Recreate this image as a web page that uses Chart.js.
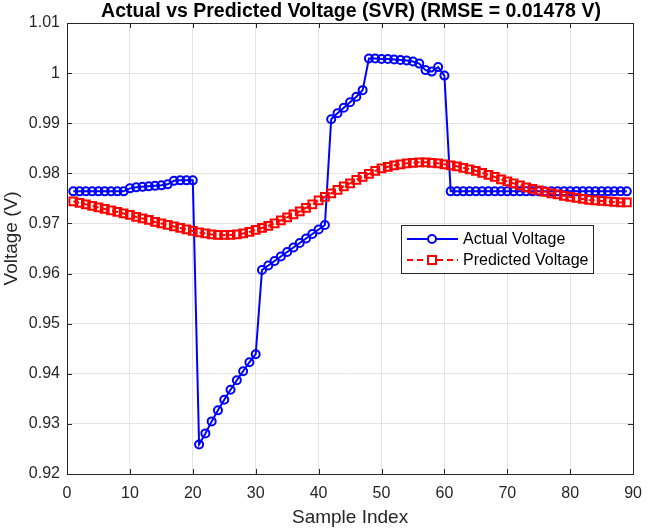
<!DOCTYPE html>
<html>
<head>
<meta charset="utf-8">
<script src="https://cdn.jsdelivr.net/npm/chart.js@4/dist/chart.umd.min.js"></script>
<style>
html,body{margin:0;padding:0;background:#fff;}
#wrap{width:652px;height:531px;position:relative;}
</style>
</head>
<body>
<div id="wrap"><canvas id="c" width="652" height="531"></canvas></div>
<script>
const titleText = "Actual vs Predicted Voltage (SVR) (RMSE = 0.01478 V)";
const xTitle = "Sample Index";
const yTitle = "Voltage (V)";
const seriesNames = ["Actual Voltage", "Predicted Voltage"];
const xTicks = [0,10,20,30,40,50,60,70,80,90];
const yTicks = [0.92,0.93,0.94,0.95,0.96,0.97,0.98,0.99,1.00,1.01];

const sampleIndex = [];
for (let i = 1; i <= 89; i++) sampleIndex.push(i);

const actualVoltage = [
  0.9764,0.9764,0.9764,0.9764,0.9764,0.9764,0.9764,0.9764,0.9764,0.9770,
  0.9772,0.9773,0.9774,0.9775,0.9776,0.9778,0.9785,0.9786,0.9786,0.9786,
  0.9259,0.9281,0.9305,0.9327,0.9348,0.9368,0.9387,0.9405,0.9423,0.9439,
  0.9607,0.9616,0.9625,0.9634,0.9643,0.9652,0.9661,0.9670,0.9679,0.9688,
  0.9697,0.9908,0.9920,0.9931,0.9942,0.9953,0.9966,1.0029,1.0029,1.0028,
  1.0028,1.0027,1.0026,1.0025,1.0023,1.0019,1.0006,1.0003,1.0012,0.9995,
  0.9764,0.9764,0.9764,0.9764,0.9764,0.9764,0.9764,0.9764,0.9764,0.9764,
  0.9764,0.9764,0.9764,0.9764,0.9764,0.9764,0.9764,0.9764,0.9764,0.9764,
  0.9764,0.9764,0.9764,0.9764,0.9764,0.9764,0.9764,0.9764,0.9764
];

const predictedVoltage = [
  0.9744,0.9741,0.9738,0.9735,0.9732,0.9729,0.9726,0.9723,0.9720,0.9717,
  0.9713,0.9710,0.9707,0.9703,0.9700,0.9697,0.9694,0.9691,0.9688,0.9685,
  0.9682,0.9680,0.9678,0.9677,0.9677,0.9677,0.9678,0.9680,0.9683,0.9687,
  0.9691,0.9695,0.9700,0.9706,0.9712,0.9718,0.9724,0.9731,0.9738,0.9746,
  0.9753,0.9760,0.9767,0.9774,0.9780,0.9787,0.9793,0.9799,0.9805,0.9810,
  0.9813,0.9816,0.9818,0.9820,0.9821,0.9822,0.9822,0.9821,0.9820,0.9818,
  0.9816,0.9814,0.9811,0.9808,0.9805,0.9801,0.9797,0.9793,0.9788,0.9784,
  0.9780,0.9776,0.9772,0.9769,0.9766,0.9763,0.9760,0.9758,0.9755,0.9753,
  0.9751,0.9749,0.9747,0.9746,0.9745,0.9744,0.9743,0.9742,0.9742
];

const toPts = (ys) => ys.map((y, i) => ({x: sampleIndex[i], y: y}));
const AX = '#262626';
const FONT = '"Liberation Sans", Arial, Helvetica, sans-serif';

const decor = {
  id: 'decor',
  afterDraw(chart) {
    const ctx = chart.ctx;
    const a = chart.chartArea;
    const xs = chart.scales.x, ys = chart.scales.y;
    ctx.save();
    ctx.strokeStyle = AX;
    ctx.lineWidth = 1;
    ctx.strokeRect(Math.round(a.left)+0.5, Math.round(a.top)+0.5, Math.round(a.right-a.left), Math.round(a.bottom-a.top));
    const tl = 5;
    ctx.beginPath();
    xTicks.forEach(v => {
      const px = Math.round(xs.getPixelForValue(v)) + 0.5;
      ctx.moveTo(px, a.bottom); ctx.lineTo(px, a.bottom - tl);
      ctx.moveTo(px, a.top); ctx.lineTo(px, a.top + tl);
    });
    yTicks.forEach(v => {
      const py = Math.round(ys.getPixelForValue(v)) + 0.5;
      ctx.moveTo(a.left, py); ctx.lineTo(a.left + tl, py);
      ctx.moveTo(a.right, py); ctx.lineTo(a.right - tl, py);
    });
    ctx.stroke();
    // title
    ctx.fillStyle = '#000';
    ctx.font = 'bold 19.5px ' + FONT;
    ctx.textAlign = 'center';
    ctx.textBaseline = 'middle';
    ctx.fillText(titleText, 351, 12);
    // axis titles
    ctx.fillStyle = AX;
    ctx.font = '19px ' + FONT;
    ctx.fillText(xTitle, (a.left + a.right) / 2, 518);
    ctx.save();
    ctx.translate(12, (a.top + a.bottom) / 2 - 10);
    ctx.rotate(-Math.PI / 2);
    ctx.fillText(yTitle, 0, 0);
    ctx.restore();
    // legend
    const lx = 401, ly = 225, lw = 192, lh = 48;
    ctx.fillStyle = '#fff';
    ctx.fillRect(lx, ly, lw, lh);
    ctx.strokeStyle = AX;
    ctx.lineWidth = 1;
    ctx.strokeRect(lx + 0.5, ly + 0.5, lw, lh);
    const rows = [
      {y: ly + 14, color: '#0000ff', dash: [], marker: 'circle', name: seriesNames[0]},
      {y: ly + 35, color: '#ff0000', dash: [6, 4], marker: 'rect', name: seriesNames[1]}
    ];
    rows.forEach(r => {
      ctx.strokeStyle = r.color;
      ctx.lineWidth = 2;
      ctx.setLineDash(r.dash);
      ctx.beginPath();
      ctx.moveTo(407, r.y); ctx.lineTo(458, r.y);
      ctx.stroke();
      ctx.setLineDash([]);
      ctx.fillStyle = '#fff';
      if (r.marker === 'circle') {
        ctx.beginPath(); ctx.arc(432, r.y, 4, 0, Math.PI * 2); ctx.fill(); ctx.stroke();
      } else {
        ctx.fillRect(428, r.y - 4, 8, 8); ctx.strokeRect(428, r.y - 4, 8, 8);
      }
      ctx.fillStyle = '#000';
      ctx.font = '16px ' + FONT;
      ctx.textAlign = 'left';
      ctx.textBaseline = 'middle';
      ctx.fillText(r.name, 463, r.y + 1);
    });
    ctx.restore();
  }
};

new Chart(document.getElementById('c'), {
  type: 'line',
  data: {
    datasets: [
      {
        label: seriesNames[0],
        data: toPts(actualVoltage),
        borderColor: '#0000ff',
        backgroundColor: 'rgba(0,0,0,0)',
        borderWidth: 2,
        pointStyle: 'circle',
        pointRadius: 4,
        pointBorderWidth: 2,
        pointBackgroundColor: 'rgba(0,0,0,0)',
        pointBorderColor: '#0000ff',
        tension: 0,
        order: 2
      },
      {
        label: seriesNames[1],
        data: toPts(predictedVoltage),
        borderColor: '#ff0000',
        backgroundColor: 'rgba(0,0,0,0)',
        borderWidth: 2,
        borderDash: [6, 4],
        pointStyle: 'rect',
        pointRadius: 5.5,
        pointBorderWidth: 2,
        pointBackgroundColor: 'rgba(0,0,0,0)',
        pointBorderColor: '#ff0000',
        tension: 0,
        order: 1
      }
    ]
  },
  options: {
    responsive: false,
    animation: false,
    events: [],
    layout: {padding: {top: 23, right: 9, left: 0, bottom: 0}},
    plugins: {legend: {display: false}, title: {display: false}, tooltip: {enabled: false}},
    scales: {
      x: {
        type: 'linear',
        min: 0, max: 90,
        afterBuildTicks: (s) => { s.ticks = xTicks.map(v => ({value: v})); },
        afterFit: (s) => { s.height = 57; },
        grid: {color: '#e3e3e3', drawTicks: false, lineWidth: 1},
        border: {display: false},
        ticks: {color: AX, font: {family: FONT, size: 16}, padding: 10, maxRotation: 0}
      },
      y: {
        type: 'linear',
        min: 0.92, max: 1.01,
        afterBuildTicks: (s) => { s.ticks = yTicks.map(v => ({value: v})); },
        afterFit: (s) => { s.width = 67; },
        grid: {color: '#e3e3e3', drawTicks: false, lineWidth: 1},
        border: {display: false},
        ticks: {color: AX, font: {family: FONT, size: 16}, padding: 7,
          callback: (v) => String(parseFloat(Number(v).toFixed(2)))}
      }
    }
  },
  plugins: [decor]
});
</script>
</body>
</html>
